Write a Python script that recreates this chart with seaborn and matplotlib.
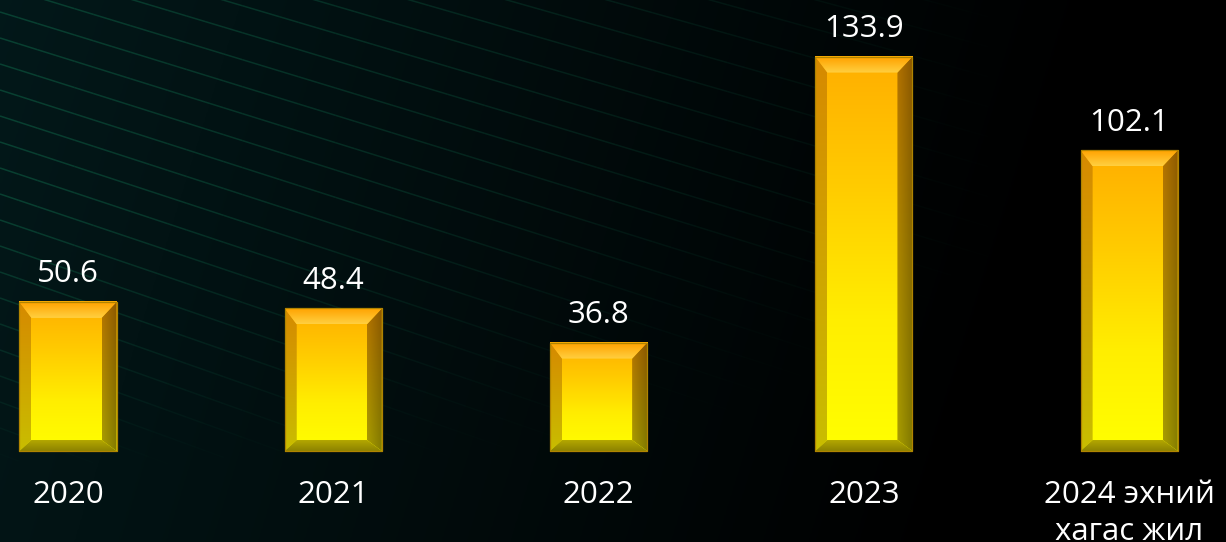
import matplotlib.pyplot as plt
import numpy as np
import seaborn as sns
from matplotlib.collections import LineCollection
from matplotlib.colors import LinearSegmentedColormap, to_rgb
from matplotlib.patches import Polygon

categories = ["2020", "2021", "2022", "2023", "2024 эхний\nхагас жил"]
values = [50.6, 48.4, 36.8, 133.9, 102.1]
value_labels = ["50.6", "48.4", "36.8", "133.9", "102.1"]

sns.set_theme(style="white")
plt.rcParams["font.family"] = ["Open Sans", "DejaVu Sans"]

fig = plt.figure(figsize=(12.26, 5.42), dpi=100)

# background: dark teal on the left fading to black on the right
bg = fig.add_axes([0, 0, 1, 1])
bg.set_axis_off()
gx = np.linspace(0, 1, 400)
gy = np.linspace(0, 1, 200)
GX, GY = np.meshgrid(gx, gy)
t = np.clip(GX * 1.1 + (1 - GY) * 0.15, 0, 1)
left = np.array([0.01, 0.095, 0.10])
right = np.array([0.0, 0.0, 0.0])
img = left[None, None, :] * (1 - t[..., None]) + right[None, None, :] * t[..., None]
bg.imshow(img, extent=[0, 1226, 0, 542], aspect="auto", origin="lower")

# faint diagonal lines in the upper left
segs, cols = [], []
for k in range(-12, 20):
    y0 = 542 + 40 - k * 26
    slope = 0.30 + 0.004 * k
    xs = np.linspace(0, 1100, 60)
    ys = y0 - slope * xs
    for i in range(len(xs) - 1):
        segs.append([(xs[i], ys[i]), (xs[i + 1], ys[i + 1])])
        a = max(0.0, 1 - xs[i] / (1000 - 30 * max(k, 0))) * 0.6
        a *= np.clip((ys[i] - 80) / 260, 0, 1) ** 0.8
        cols.append((0.05, 0.36, 0.26, a))
bg.add_collection(LineCollection(segs, colors=cols, linewidths=1.1))
bg.set_xlim(0, 1226)
bg.set_ylim(0, 542)

ax = fig.add_axes([0, 0, 1, 1])
ax.patch.set_alpha(0)
sns.barplot(x=categories, y=values, ax=ax, width=0.366, color="#ffc000",
            linewidth=0, saturation=1)
ax.set_xlim(-0.2563, 4.365)
ax.set_ylim(-30.9, 153.1)
ax.set_axis_off()


def vgrad(top, bottom, n=128):
    a, b = np.array(to_rgb(top)), np.array(to_rgb(bottom))
    s = np.linspace(0, 1, n)[:, None]
    return (b * (1 - s) + a * s)[:, None, :]


def hgrad(lft, rgt, n=64):
    a, b = np.array(to_rgb(lft)), np.array(to_rgb(rgt))
    s = np.linspace(0, 1, n)[:, None]
    return (a * (1 - s) + b * s)[None, :, :]


def facet(pts, rgb, ext, z=4):
    poly = Polygon(pts, closed=True, facecolor="none", edgecolor="none")
    ax.add_patch(poly)
    im = ax.imshow(rgb, extent=ext, origin="lower", aspect="auto", zorder=z,
                   interpolation="bilinear")
    im.set_clip_path(poly)


front = LinearSegmentedColormap.from_list("front", ["#ffff00", "#ffee00", "#ffcc00", "#ffae00"])
px_x = ax.transData.transform((1, 0))[0] - ax.transData.transform((0, 0))[0]
px_y = ax.transData.transform((0, 1))[1] - ax.transData.transform((0, 0))[1]
bl = 12 / px_x
br = 15 / px_x
bt = 16 / px_y
bb = 11 / px_y

for i, p in enumerate(ax.patches):
    x0, y0 = p.get_x(), p.get_y()
    w, h = p.get_width(), p.get_height()
    x1, y1 = x0 + w, y0 + h
    p.set_alpha(0)
    grad = np.linspace(0, 1, 256).reshape(-1, 1)
    ax.imshow(grad, cmap=front, extent=[x0, x1, y0, y1], origin="lower",
              aspect="auto", zorder=3, interpolation="bilinear")
    ix0, ix1 = x0 + bl, x1 - br
    iy0, iy1 = y0 + bb, y1 - bt
    # left facet
    lrgb = vgrad("#e69400", "#d8cc00") * 0.93 + hgrad("#c88000", "#ffb800") * 0.0
    facet([(x0, y0), (x0, y1), (ix0, iy1), (ix0, iy0)], lrgb, [x0, ix0, y0, y1])
    # right facet
    rrgb = vgrad("#b47200", "#a89e00")
    shade = np.linspace(1.0, 0.78, 32)[None, :, None]
    facet([(x1, y0), (x1, y1), (ix1, iy1), (ix1, iy0)], np.clip(rrgb * shade, 0, 1),
          [ix1, x1, y0, y1])
    # top facet
    trgb = vgrad("#ffa200", "#ffd040")
    facet([(x0, y1), (x1, y1), (ix1, iy1), (ix0, iy1)], trgb, [x0, x1, iy1, y1])
    # bottom facet
    brgb = vgrad("#b4a800", "#8c8200")
    facet([(x0, y0), (x1, y0), (ix1, iy0), (ix0, iy0)], brgb, [x0, x1, y0, iy0])
    ax.plot([x0, x1, x1, x0, x0], [y0, y0, y1, y1, y0], color="#b08400", lw=0.9, zorder=5)

    cx = x0 + w / 2
    ax.annotate(value_labels[i], xy=(cx, y1), xytext=(0, 14), textcoords="offset points",
                ha="center", va="baseline", color="white", fontsize=22.5, zorder=6)
    for j, line in enumerate(categories[i].split("\n")):
        ax.annotate(line, xy=(cx, 0), xytext=(0, -37.5 - 26.8 * j), textcoords="offset points",
                    ha="center", va="baseline", color="white", fontsize=22.5, zorder=6)

fig.savefig("out.png", dpi=100)
